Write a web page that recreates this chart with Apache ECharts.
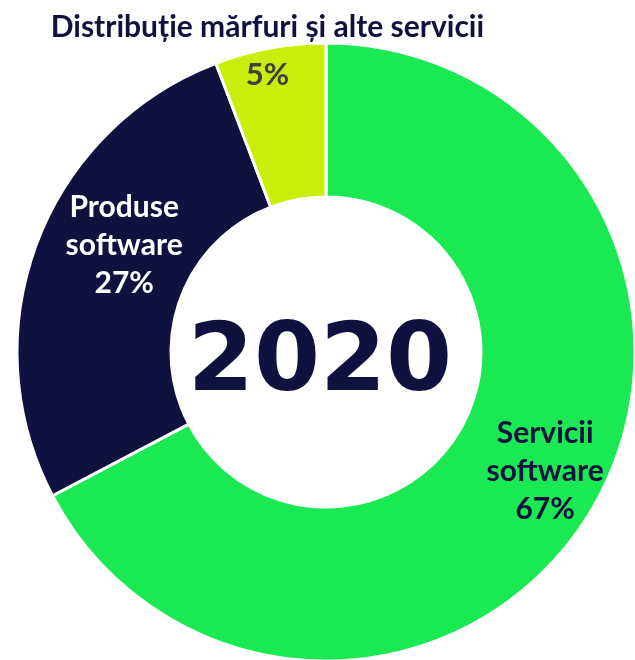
<!DOCTYPE html>
<html><head><meta charset="utf-8">
<script src="https://cdn.jsdelivr.net/npm/echarts@6/dist/echarts.min.js"></script>
<style>html,body{margin:0;padding:0;background:#fff}#c{width:635px;height:660px}</style>
</head><body><div id="c"></div>
<script>
var categories = ['Servicii\nsoftware', 'Produse\nsoftware', 'Distribuție mărfuri și alte servicii'];
var values = [67.3, 26.9, 5.8];
var pctLabels = ['67%', '27%', '5%'];
var centerLabel = '2020';
var colors = ['#1BE954', '#111140', '#C9EE0B'];

var chart = echarts.init(document.getElementById('c'));
var F = 'Lato, "Open Sans", sans-serif';
var data = categories.map(function (c, i) {
  var d = { name: c, value: values[i], itemStyle: { color: colors[i] } };
  return d;
});
data[0].label = { offset: [18, -2], color: '#111140',
  formatter: function (p) { return p.name + '\n' + pctLabels[p.dataIndex]; } };
data[1].label = { offset: [18, -24], color: '#ffffff',
  formatter: function (p) { return p.name + '\n' + pctLabels[p.dataIndex]; } };
data[2].label = { offset: [-16, -70],
  formatter: function (p) { return '{t|' + p.name + '}\n{p|' + pctLabels[p.dataIndex] + '}'; },
  rich: {
    t: { fontFamily: F, fontWeight: 'bold', fontSize: 30, color: '#111140', lineHeight: 48 },
    p: { fontFamily: F, fontWeight: 'bold', fontSize: 31, color: '#404040', lineHeight: 48 }
  } };

chart.setOption({
  animation: false,
  series: [{
    type: 'pie',
    center: [326, 352],
    radius: [155, 309],
    startAngle: 90,
    clockwise: true,
    itemStyle: { borderColor: '#ffffff', borderWidth: 3 },
    label: { show: true, position: 'inside', rotate: 0, fontFamily: F, fontWeight: 'bold',
      fontSize: 30, lineHeight: 38, align: 'center' },
    labelLine: { show: false },
    emphasis: { disabled: true },
    data: data
  }],
  graphic: [{
    type: 'text', x: 320, y: 365,
    style: { text: centerLabel, fontFamily: '"DejaVu Sans", sans-serif', fontWeight: 'bold', fontSize: 95,
      fill: '#111140', align: 'center', verticalAlign: 'middle' }
  }]
});
</script></body></html>
